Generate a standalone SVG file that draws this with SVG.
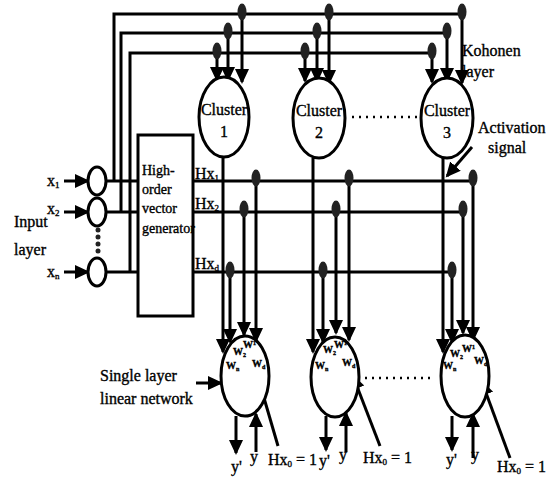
<svg xmlns="http://www.w3.org/2000/svg" width="549" height="478" viewBox="0 0 549 478">
<defs>
<marker id="ah" markerUnits="userSpaceOnUse" markerWidth="16" markerHeight="16" refX="13" refY="7" orient="auto">
<path d="M0,0 L15,7 L0,14 z" fill="#000"/>
</marker>
<style>
.l{stroke:#000;stroke-width:3;fill:none}
.a{stroke:#000;stroke-width:3;fill:none;marker-end:url(#ah)}
.n{fill:#fff;stroke:#000;stroke-width:3}
.d{fill:#222}
.dot{stroke:#000;stroke-width:2.5;stroke-dasharray:2 5;fill:none}
text{font-family:"Liberation Serif","Times New Roman",serif;font-size:16px;fill:#000;stroke:#000;stroke-width:0.35}
.s{font-size:9px}
.w{font-size:10px;font-weight:bold}
.ws{font-size:6px;font-weight:bold}
.b{font-size:14px}
</style>
</defs>
<rect width="549" height="478" fill="#fff"/>

<g id="connectors">
<polyline class="l" points="114,181 114,14 462,14"/>
<polyline class="l" points="121,212 121,33 447,33"/>
<polyline class="l" points="130,272 130,53 432,53"/>
<line class="l" x1="107" y1="181" x2="138" y2="181"/>
<line class="l" x1="107" y1="212" x2="138" y2="212"/>
<line class="l" x1="107" y1="272" x2="138" y2="272"/>
<line class="a" x1="64" y1="181" x2="88" y2="181"/>
<line class="a" x1="64" y1="212" x2="88" y2="212"/>
<line class="a" x1="64" y1="272" x2="88" y2="272"/>
<line class="l" x1="193" y1="181" x2="473" y2="181"/>
<line class="l" x1="193" y1="212" x2="463" y2="212"/>
<line class="l" x1="193" y1="272" x2="452" y2="272"/>
<line class="a" x1="217" y1="53" x2="217" y2="80"/>
<line class="a" x1="228" y1="33" x2="228" y2="80"/>
<line class="a" x1="242" y1="14" x2="242" y2="82"/>
<line class="a" x1="305" y1="53" x2="305" y2="81"/>
<line class="a" x1="317" y1="33" x2="317" y2="81"/>
<line class="a" x1="329" y1="14" x2="329" y2="83"/>
<line class="a" x1="432" y1="53" x2="432" y2="82"/>
<line class="a" x1="447" y1="33" x2="447" y2="81"/>
<line class="a" x1="462" y1="14" x2="462" y2="83"/>
<line class="a" x1="223" y1="157" x2="223" y2="352"/>
<line class="a" x1="313" y1="158" x2="313" y2="352"/>
<line class="a" x1="443" y1="158" x2="443" y2="352"/>
<line class="a" x1="256" y1="181" x2="256" y2="341"/>
<line class="a" x1="244" y1="212" x2="244" y2="335"/>
<line class="a" x1="230" y1="272" x2="230" y2="342"/>
<line class="a" x1="349" y1="181" x2="349" y2="340"/>
<line class="a" x1="336" y1="212" x2="336" y2="333"/>
<line class="a" x1="323" y1="272" x2="323" y2="342"/>
<line class="a" x1="473" y1="181" x2="473" y2="340"/>
<line class="a" x1="463" y1="212" x2="463" y2="333"/>
<line class="a" x1="452" y1="272" x2="452" y2="342"/>
<ellipse class="d" cx="242" cy="12" rx="4.5" ry="8.5"/>
<ellipse class="d" cx="228" cy="31" rx="4.5" ry="8.5"/>
<ellipse class="d" cx="217" cy="51" rx="4.5" ry="8.5"/>
<ellipse class="d" cx="329" cy="12" rx="4.5" ry="8.5"/>
<ellipse class="d" cx="317" cy="31" rx="4.5" ry="8.5"/>
<ellipse class="d" cx="305" cy="51" rx="4.5" ry="8.5"/>
<ellipse class="d" cx="462" cy="12" rx="4.5" ry="8.5"/>
<ellipse class="d" cx="447" cy="31" rx="4.5" ry="8.5"/>
<ellipse class="d" cx="432" cy="51" rx="4.5" ry="8.5"/>
<ellipse class="d" cx="256" cy="178" rx="4.5" ry="8.5"/>
<ellipse class="d" cx="244" cy="209" rx="4.5" ry="8.5"/>
<ellipse class="d" cx="230" cy="270" rx="4.5" ry="8.5"/>
<ellipse class="d" cx="349" cy="178" rx="4.5" ry="8.5"/>
<ellipse class="d" cx="336" cy="209" rx="4.5" ry="8.5"/>
<ellipse class="d" cx="323" cy="270" rx="4.5" ry="8.5"/>
<ellipse class="d" cx="473" cy="178" rx="4.5" ry="8.5"/>
<ellipse class="d" cx="463" cy="209" rx="4.5" ry="8.5"/>
<ellipse class="d" cx="452" cy="270" rx="4.5" ry="8.5"/>
<line class="dot" x1="352" y1="117" x2="418" y2="117"/>
<line class="dot" x1="365" y1="378" x2="433" y2="378"/>
<line class="a" x1="472" y1="147" x2="447" y2="176"/>
<line class="a" x1="196" y1="383" x2="221" y2="383"/>
<line class="a" x1="236" y1="416" x2="236" y2="453"/>
<line class="a" x1="256" y1="452" x2="256" y2="414"/>
<line class="a" x1="326" y1="416" x2="326" y2="450"/>
<line class="a" x1="346" y1="452" x2="346" y2="413"/>
<line class="a" x1="452" y1="416" x2="452" y2="450"/>
<line class="a" x1="473" y1="458" x2="473" y2="414"/>
<line class="a" x1="278" y1="446" x2="257" y2="374"/>
<line class="a" x1="380" y1="446" x2="353" y2="376"/>
<line class="a" x1="510" y1="458" x2="482" y2="382"/>
</g>

<g id="input-x1"><ellipse class="n" cx="97" cy="181" rx="9" ry="14"/></g>
<g id="input-x2"><ellipse class="n" cx="97" cy="212" rx="9" ry="14"/></g>
<g id="input-dots">
<circle class="d" cx="98" cy="230" r="2.5"/><circle class="d" cx="98" cy="237" r="2.5"/>
<circle class="d" cx="98" cy="244" r="2.5"/><circle class="d" cx="98" cy="251" r="2.5"/>
</g>
<g id="input-xn"><ellipse class="n" cx="97" cy="272" rx="9" ry="14"/></g>

<g id="generator">
<rect class="n" x="138" y="135" width="55" height="181"/>
<text class="b" x="142" y="175">High-</text>
<text class="b" x="142" y="194">order</text>
<text class="b" x="142" y="213">vector</text>
<text class="b" x="142" y="233">generator</text>
</g>

<g id="cluster1">
<ellipse class="n" cx="224" cy="117" rx="25" ry="40"/>
<text x="224" y="115" text-anchor="middle">Cluster</text>
<text x="224" y="137" text-anchor="middle">1</text>
</g>
<g id="cluster2">
<ellipse class="n" cx="319" cy="118" rx="26" ry="40"/>
<text x="319" y="116" text-anchor="middle">Cluster</text>
<text x="319" y="138" text-anchor="middle">2</text>
</g>
<g id="cluster3">
<ellipse class="n" cx="447" cy="118" rx="26" ry="40"/>
<text x="447" y="116" text-anchor="middle">Cluster</text>
<text x="447" y="138" text-anchor="middle">3</text>
</g>

<g id="net1">
<ellipse class="n" cx="245" cy="376" rx="24" ry="40"/>
<text class="w" x="233" y="355">W<tspan class="ws" dy="2">2</tspan></text>
<text class="w" x="243" y="348">W<tspan class="ws" dy="-3">1</tspan></text>
<text class="w" x="226" y="369">W<tspan class="ws" dy="2">n</tspan></text>
<text class="w" x="252" y="367">W<tspan class="ws" dy="2">d</tspan></text>
</g>
<g id="net2">
<ellipse class="n" cx="335" cy="377" rx="24" ry="40"/>
<text class="w" x="323" y="353">W<tspan class="ws" dy="2">2</tspan></text>
<text class="w" x="334" y="348">W<tspan class="ws" dy="-3">1</tspan></text>
<text class="w" x="315" y="369">W<tspan class="ws" dy="2">n</tspan></text>
<text class="w" x="342" y="366">W<tspan class="ws" dy="2">d</tspan></text>
</g>
<g id="net3">
<ellipse class="n" cx="465" cy="376" rx="24" ry="41"/>
<text class="w" x="450" y="357">W<tspan class="ws" dy="2">2</tspan></text>
<text class="w" x="462" y="352">W<tspan class="ws" dy="-3">1</tspan></text>
<text class="w" x="443" y="369">W<tspan class="ws" dy="2">n</tspan></text>
<text class="w" x="474" y="364">W<tspan class="ws" dy="2">d</tspan></text>
</g>

<g id="labels">
<text x="47" y="186">x<tspan class="s" dy="2">1</tspan></text>
<text x="47" y="214">x<tspan class="s" dy="2">2</tspan></text>
<text x="47" y="277">x<tspan class="s" dy="2">n</tspan></text>
<text x="14" y="227">Input</text>
<text x="14" y="255">layer</text>
<text x="195" y="179">Hx<tspan class="s" dy="2">1</tspan></text>
<text x="195" y="209">Hx<tspan class="s" dy="2">2</tspan></text>
<text x="195" y="269">Hx<tspan class="s" dy="2">d</tspan></text>
<text x="462" y="56">Kohonen</text>
<text x="462" y="77">layer</text>
<text x="478" y="133">Activation</text>
<text x="488" y="153">signal</text>
<text x="100" y="381">Single layer</text>
<text x="100" y="404">linear network</text>
<text x="231" y="472">y'</text>
<text x="250" y="462">y</text>
<text x="268" y="465">Hx<tspan class="s" dy="2">0</tspan><tspan dy="-2"> = 1</tspan></text>
<text x="319" y="466">y'</text>
<text x="339" y="460">y</text>
<text x="363" y="463">Hx<tspan class="s" dy="2">0</tspan><tspan dy="-2"> = 1</tspan></text>
<text x="446" y="465">y'</text>
<text x="471" y="460">y</text>
<text x="497" y="472">Hx<tspan class="s" dy="2">0</tspan><tspan dy="-2"> = 1</tspan></text>
</g>
</svg>
